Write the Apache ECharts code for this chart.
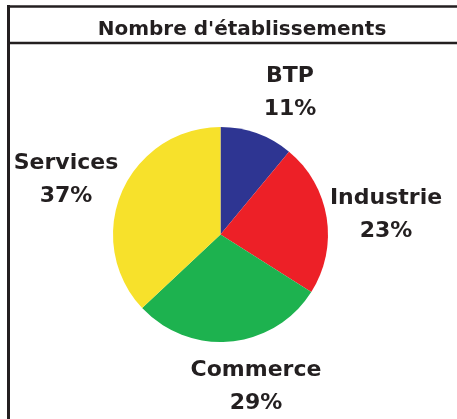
<!DOCTYPE html>
<html>
<head>
    <meta charset="utf-8">
    <title>Nombre d'établissements</title>
    <script src="https://cdn.jsdelivr.net/npm/echarts@6/dist/echarts.min.js"></script>
    <style>
        html, body { margin: 0; padding: 0; background: #fff; }
        #chart1 { width: 457px; height: 419px; }
    </style>
</head>
<body>
<div id="chart1"></div>
<script>
    // données du graphique
    var categories = ['BTP', 'Industrie', 'Commerce', 'Services'];
    var values = [11, 23, 29, 37];
    var colors = ['#2e3592', '#ed2027', '#1db24f', '#f7e12b'];
    // position du centre de chaque étiquette
    var labelPos = [[290, 93], [386, 215], [256, 387], [66, 180]];

    var ink = '#231f20';
    var myChart1 = echarts.init(document.getElementById('chart1'));

    myChart1.setOption({
        backgroundColor: '#fff',
        animation: false,
        title: {
            text: "Nombre d'établissements",
            left: 237,
            top: 25,
            textAlign: 'center',
            textVerticalAlign: 'middle',
            textStyle: {
                fontFamily: 'DejaVu Sans',
                fontWeight: 'bold',
                fontSize: 20,
                color: ink
            }
        },
        graphic: [
            // cadre
            { type: 'line', shape: { x1: 8.5, y1: 5, x2: 8.5, y2: 419 }, style: { stroke: ink, lineWidth: 3 } },
            { type: 'line', shape: { x1: 7, y1: 6.5, x2: 457, y2: 6.5 }, style: { stroke: ink, lineWidth: 2.5 } },
            { type: 'line', shape: { x1: 7, y1: 43, x2: 457, y2: 43 }, style: { stroke: ink, lineWidth: 2.5 } }
        ],
        series: [{
            type: 'pie',
            center: [220.5, 234.5],
            radius: 107.5,
            startAngle: 90,
            clockwise: true,
            silent: true,
            data: categories.map(function (c, i) {
                return { name: c, value: values[i], itemStyle: { color: colors[i] } };
            }),
            itemStyle: { borderWidth: 0 },
            labelLine: { show: false },
            label: {
                show: true,
                position: 'inside',
                overflow: 'none',
                formatter: '{b}\n{d}%',
                fontFamily: 'DejaVu Sans',
                fontWeight: 'bold',
                fontSize: 22,
                lineHeight: 33,
                color: ink,
                align: 'center'
            },
            labelLayout: function (params) {
                var p = labelPos[params.dataIndex];
                return { x: p[0], y: p[1], align: 'center', verticalAlign: 'middle' };
            }
        }]
    });
</script>
</body>
</html>
